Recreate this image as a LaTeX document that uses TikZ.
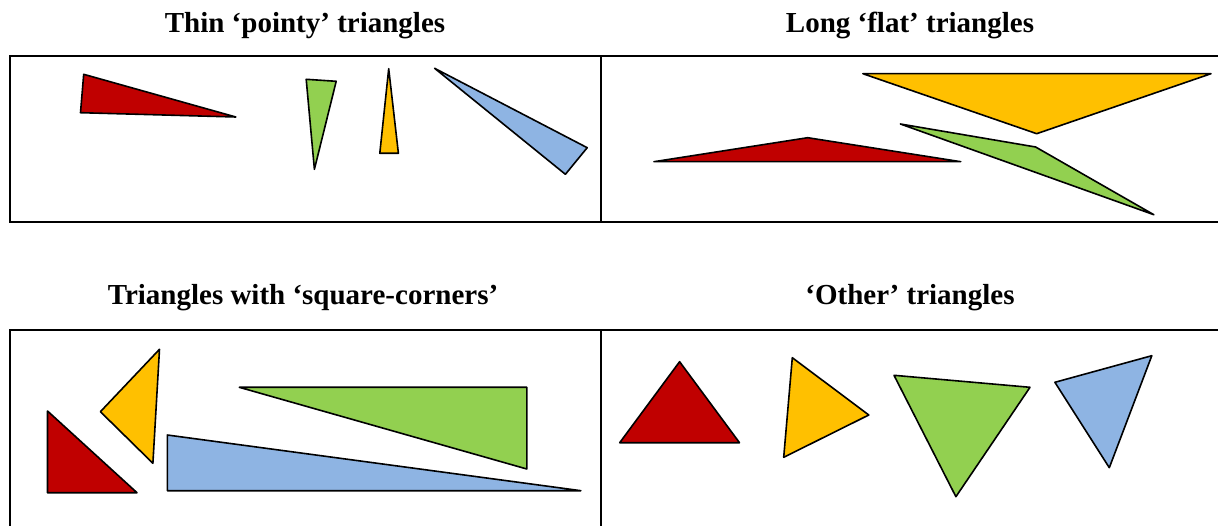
\documentclass[tikz,border=0pt]{standalone}
\usepackage{fontspec}
\setmainfont{Liberation Serif}
\definecolor{triRed}{HTML}{C00000}
\definecolor{triYellow}{HTML}{FFC000}
\definecolor{triGreen}{HTML}{92D050}
\definecolor{triBlue}{HTML}{8EB4E3}
\tikzset{
  panel frame/.style={draw=black, line width=2pt},
  tri piece/.style={draw=black, line width=1.6pt, line join=round},
  panel title/.style={font=\bfseries\fontsize{29pt}{32pt}\selectfont,
    inner sep=0pt, anchor=base}
}
\newcommand{\triPiece}[4]{%
  \filldraw[tri piece, fill=#1] #2 -- #3 -- #4 -- cycle;%
}

\begin{document}
\begin{tikzpicture}[x=1pt,y=-1pt]
  \useasboundingbox (0,0) rectangle (1218,526);
  \clip (0,0) rectangle (1218,526);

  % titles
  \node[panel title] (thinTitle) at (305,32.5) {Thin ‘pointy’ triangles};
  \node[panel title] (flatTitle) at (910,32.5) {Long ‘flat’ triangles};
  \node[panel title] (squareTitle) at (303,305) {Triangles with ‘square-corners’};
  \node[panel title] (otherTitle) at (910,305) {‘Other’ triangles};

  % frames
  \draw[panel frame] (1225,56) -- (10,56) -- (10,222) -- (1225,222);
  \draw[panel frame] (601,56) -- (601,222);
  \draw[panel frame] (1225,330) -- (10,330) -- (10,535);
  \draw[panel frame] (601,330) -- (601,535);

  % thin pointy
  \triPiece{triRed}{(83.7,74.3)}{(80.5,112.7)}{(235.8,117)}
  \triPiece{triGreen}{(306.2,79.3)}{(336.2,81.3)}{(314.4,169.3)}
  \triPiece{triYellow}{(388.7,68.7)}{(379.8,153.3)}{(398.4,153.3)}
  \triPiece{triBlue}{(434.6,68.3)}{(587.2,147.7)}{(565.4,174.3)}

  % long flat
  \triPiece{triYellow}{(862.9,73.7)}{(1211,73.7)}{(1036.7,133.7)}
  \triPiece{triGreen}{(900.4,124)}{(1035.6,147)}{(1153.8,214.7)}
  \triPiece{triRed}{(654,161.7)}{(807.7,137.7)}{(960.7,161.7)}

  % square corners
  \triPiece{triRed}{(47.5,411)}{(47.5,492.7)}{(137,492.7)}
  \triPiece{triYellow}{(159.5,349.3)}{(100.4,411.7)}{(152.9,463.3)}
  \triPiece{triGreen}{(239.3,387.3)}{(526.8,387.3)}{(526.8,469)}
  \triPiece{triBlue}{(167.3,435)}{(167.3,490.7)}{(580.9,490.7)}

  % other
  \triPiece{triRed}{(679.6,361.7)}{(619.7,442.7)}{(739.5,442.7)}
  \triPiece{triYellow}{(792.3,357.7)}{(868.8,415)}{(783.7,457.3)}
  \triPiece{triGreen}{(894,375.3)}{(1030,387.3)}{(955.9,496.7)}
  \triPiece{triBlue}{(1054.9,382.3)}{(1151.8,355.7)}{(1109.3,467.7)}
\end{tikzpicture}
\end{document}
